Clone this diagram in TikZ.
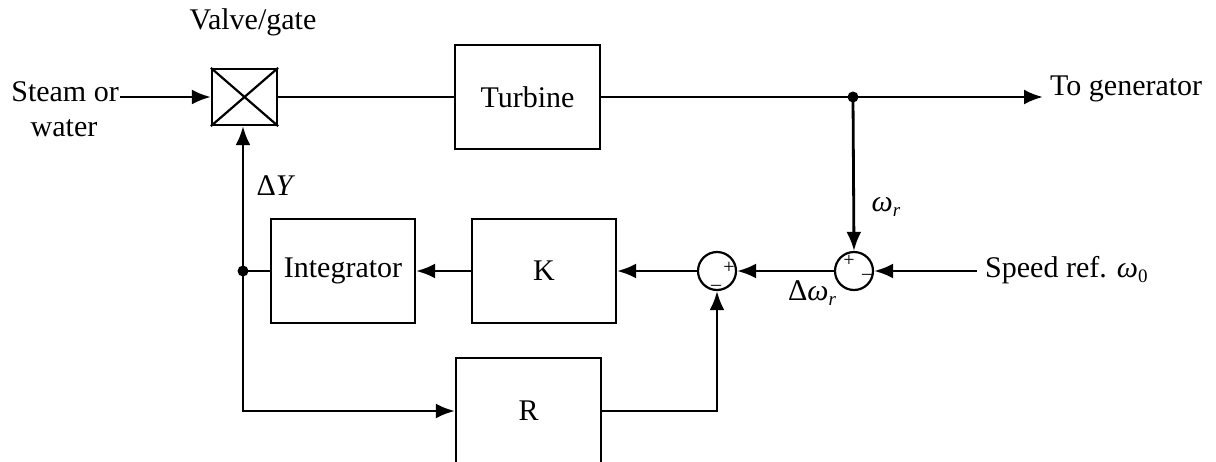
\documentclass[tikz,border=0pt]{standalone}
\usepackage{fontspec}
\setmainfont{Liberation Serif}
\usetikzlibrary{arrows.meta}
\begin{document}
\begin{tikzpicture}[x=1pt,y=-1pt,
  every node/.style={font=\fontsize{30}{33}\selectfont},
  blk/.style={draw, line width=2.2pt, minimum width=#1, inner sep=0pt},
  sumj/.style={draw, circle, line width=2.2pt, minimum size=38pt, inner sep=0pt},
  wire/.style={line width=2.8pt},
  arr/.style={line width=2.8pt, -{Latex[length=19pt,width=15pt]}},
  lbl/.style={inner sep=0pt},
  sgn/.style={inner sep=0pt, font=\fontsize{20}{20}\selectfont}]
\useasboundingbox (0,0) rectangle (1216,461);
% blocks
\node[blk=65pt, minimum height=56pt] (valve) at (244.5,97) {};
\draw[line width=2.2pt] (valve.north west) -- (valve.south east) (valve.north east) -- (valve.south west);
\node[blk=145pt, minimum height=104pt] (turb) at (527.5,97) {Turbine};
\node[blk=144pt, minimum height=104pt] (int) at (343,271) {Integrator};
\node[blk=144pt, minimum height=104pt] (K) at (544,271) {K};
\node[blk=145pt, minimum height=106pt] (R) at (528.5,411) {R};
\node[sumj] (s1) at (717,271) {};
\node[sumj] (s2) at (854,271) {};
% signs
\node[sgn] at (729,268) {+};
\node[sgn] at (716,288) {\textendash};
\node[sgn] at (849,261) {+};
\node[sgn] at (867,277) {\textendash};
% coordinates
\coordinate (steam) at (120,97);
\coordinate (jt) at (853,97);
\coordinate (gen) at (1043,97);
\coordinate (jl) at (243,271);
\coordinate (cb) at (243,411);
\coordinate (rc) at (717,411);
\coordinate (sref) at (977,271);
% texts
\node[lbl, anchor=east] (st) at (119,92) {Steam or};
\node[lbl] at (64,128) {water};
\node[lbl] at (253,22) {Valve/gate};
\node[lbl, anchor=west] at (1050,89) {To generator};
\node[lbl, anchor=west] at (985,270) {Speed ref. \textit{ω}\raisebox{-0.4ex}{\fontsize{19}{19}\selectfont 0}};
\node[lbl] at (276,186) {Δ\textit{Y}};
\node[lbl] at (886,207) {\textit{ω}\raisebox{-0.4ex}{\fontsize{19}{19}\selectfont\itshape r}};
\node[lbl] at (812,293) {Δ\textit{ω}\raisebox{-0.4ex}{\fontsize{19}{19}\selectfont\itshape r}};
% connectors
\draw[arr] (steam) -- (valve.west);
\draw[wire] (valve.east) -- (turb.west);
\draw[arr] (turb.east) -- (gen);
\draw[arr] (jt) -- (s2.north);
\draw[arr] (sref) -- (s2.east);
\draw[arr] (s2.west) -- (s1.east);
\draw[arr] (s1.west) -- (K.east);
\draw[arr] (K.west) -- (int.east);
\draw[wire] (int.west) -- (jl);
\draw[arr] (cb) -- (valve.south -| cb);
\draw[arr] (jl) |- (R.west |- cb);
\draw[arr] (R.east |- rc) -| (s1.south);
\fill (jt) circle (5.5pt);
\fill (jl) circle (5.5pt);
\end{tikzpicture}
\end{document}
